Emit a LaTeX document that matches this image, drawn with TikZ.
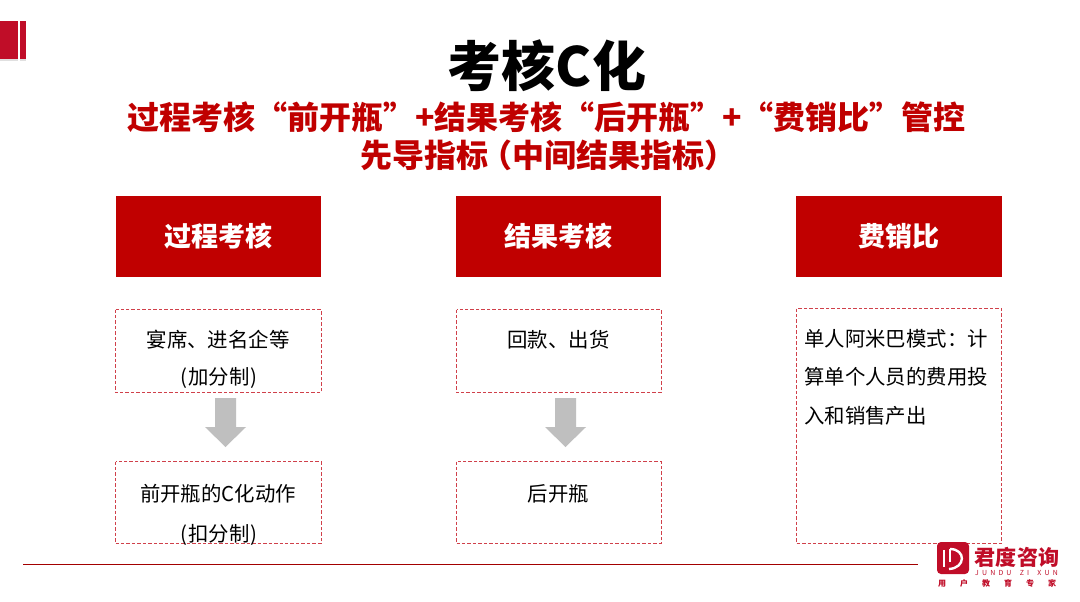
\documentclass[tikz,border=0pt]{standalone}
\usepackage{fontspec}
\setmainfont{Noto Sans CJK SC}
\usepackage{xcolor}
\definecolor{redm}{HTML}{C00000}
\definecolor{dashr}{HTML}{D0404A}
\definecolor{arrg}{HTML}{BFBFBF}
\definecolor{logor}{HTML}{C00D28}
\tikzset{
  x=0.75pt,y=-0.75pt,
  headbox/.style={fill=redm,minimum width=154.2pt,minimum height=60.75pt,inner sep=0pt,text=white,font=\bfseries\fontsize{20.25pt}{24pt}\selectfont},
  dashbox/.style={draw=dashr,dash pattern=on 2.6pt off 1.5pt,line width=0.75pt,inner sep=0pt},
  body/.style={font=\fontsize{15.3pt}{18pt}\selectfont,text=black,inner sep=0pt},
  downarr/.style={draw=none,fill=arrg},
}
\begin{document}
\begin{tikzpicture}
\useasboundingbox (0,0) rectangle (1080,601);
\fill[white] (0,0) rectangle (1080,601);
% corner mark
\fill[black!12] (0,59) rectangle (18,61);
\fill[black!12] (20,59) rectangle (26,61);
\fill[logor] (0,21) rectangle (18,59);
\fill[logor] (20,21) rectangle (26,59);
% title
\node[font=\bfseries\fontsize{40.5pt}{44pt}\selectfont,inner sep=0pt] (title) at (547,66) {考核C化};
\node[font=\bfseries\fontsize{24pt}{26pt}\selectfont,text=redm,inner sep=0pt] (sub1) at (546.5,117) {过程考核“前开瓶”+结果考核“后开瓶”+“费销比”管控};
\node[font=\bfseries\fontsize{24pt}{26pt}\selectfont,text=redm,inner sep=0pt] (sub2) at (548,155) {先导指标\hspace{-6pt}（中间结果指标）};
% headers
\node[headbox] (h1) at (218.5,236.5) {\raisebox{-0.7pt}{过程考核}};
\node[headbox] (h2) at (558.5,236.5) {\raisebox{-0.7pt}{结果考核}};
\node[headbox] (h3) at (899,236.5) {\raisebox{-0.7pt}{费销比}};
% dashed boxes
\draw[dashbox] (115.5,309.5) rectangle (321,392.5);
\draw[dashbox] (115.5,461.5) rectangle (321,543.5);
\draw[dashbox] (456.5,309.5) rectangle (661,392.5);
\draw[dashbox] (456.5,461.5) rectangle (661,543.5);
\draw[dashbox] (796.5,308.5) rectangle (1001.5,543.5);
% texts
\node[body] (t1) at (218,340) {宴席、进名企等};
\node[body] (t2) at (219,378) {(\hspace{0.8pt}加分制\hspace{0.8pt})};
\node[body] (t3) at (218,494) {前开瓶的C化动作};
\node[body] (t4) at (219,535) {(\hspace{0.8pt}扣分制\hspace{0.8pt})};
\node[body] (t5) at (558.5,340) {回款、出货};
\node[body] (t6) at (558.5,494) {后开瓶};
\node[body,anchor=west] (t7) at (804,339) {单人阿米巴模式：计};
\node[body,anchor=west] (t8) at (804,377) {算单个人员的费用投};
\node[body,anchor=west] (t9) at (804,416) {入和销售产出};
% block arrows
\fill[downarr] (215,398) -- (236,398) -- (236,427) -- (246,427) -- (225.5,447) -- (205,427) -- (215,427) -- cycle;
\fill[downarr] (555,398) -- (576,398) -- (576,427) -- (586,427) -- (565.5,447) -- (545,427) -- (555,427) -- cycle;
% bottom line
\draw[draw=redm!85!black,line width=1pt] (23,564.5) -- (918,564.5);
% logo
\fill[logor,rounded corners=3pt] (937,542) rectangle (969,574);
\draw[white,line width=1.2pt] (944,550) -- (944,567);
\draw[white,line width=1.8pt] (950,549) .. controls (966,549) and (966,568) .. (949,569);
\draw[white,line width=1.2pt] (950,549) -- (950,562);
\node[font=\bfseries\fontsize{15.8pt}{18pt}\selectfont,text=logor,inner sep=0pt] (lg1) at (1017,557) {君度咨询};
\node[font=\fontsize{5.2pt}{6pt}\selectfont,text=logor,inner sep=0pt] (lg2) at (1016.5,572.5) {J\hspace{2.4pt}U\hspace{2.4pt}N\hspace{2.4pt}D\hspace{2.4pt}U\hspace{6.2pt}Z\hspace{2.4pt}I\hspace{6.2pt}X\hspace{2.4pt}U\hspace{2.4pt}N};
\node[font=\bfseries\fontsize{6pt}{7pt}\selectfont,text=logor,inner sep=0pt] (lg3) at (997,583) {用\hspace{10.5pt}户\hspace{10.5pt}教\hspace{10.5pt}育\hspace{10.5pt}专\hspace{10.5pt}家};
\end{tikzpicture}
\end{document}
